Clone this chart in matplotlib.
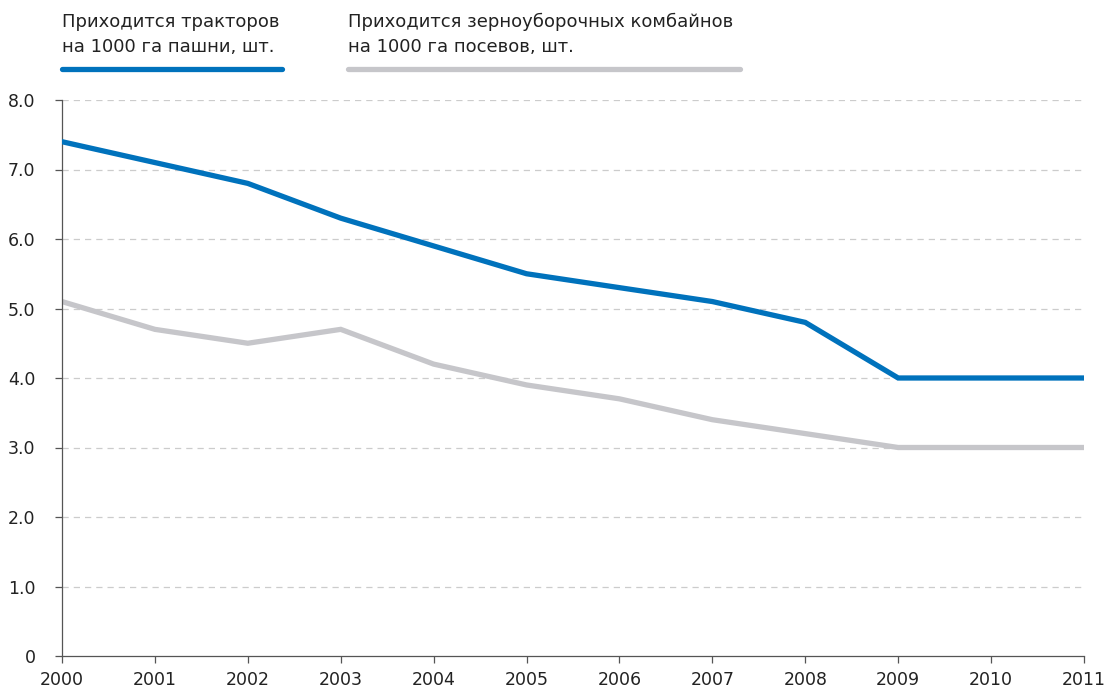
import numpy as np
import matplotlib.pyplot as plt
from matplotlib.lines import Line2D

years = list(range(2000, 2012))
tractors = [7.4, 7.1, 6.8, 6.3, 5.9, 5.5, 5.3, 5.1, 4.8, 4.0, 4.0, 4.0]
combines = [5.1, 4.7, 4.5, 4.7, 4.2, 3.9, 3.7, 3.4, 3.2, 3.0, 3.0, 3.0]
y_ticks = [0, 1, 2, 3, 4, 5, 6, 7, 8]
y_labels = ["0", "1.0", "2.0", "3.0", "4.0", "5.0", "6.0", "7.0", "8.0"]
legend_labels = [
    "Приходится тракторов\nна 1000 га пашни, шт.",
    "Приходится зерноуборочных комбайнов\nна 1000 га посевов, шт.",
]

BLUE = "#0072bc"
GREY = "#c6c6ca"

plt.rcParams["font.family"] = ["DejaVu Sans"]

W, H = 1108, 691
fig = plt.figure(figsize=(W / 100, H / 100), dpi=100)
ax = fig.add_axes([62 / W, 35 / H, (1084 - 62) / W, (656 - 100) / H])

for yv in y_ticks[1:]:
    ax.axhline(yv, color="#cccccc", lw=0.9, ls=(0, (5, 4)), zorder=0)

ax.plot(years, combines, color=GREY, lw=3.8, solid_capstyle="round",
        solid_joinstyle="miter", zorder=2)
ax.plot(years, tractors, color=BLUE, lw=3.8, solid_capstyle="round",
        solid_joinstyle="miter", zorder=3)

ax.set_xlim(2000, 2011)
ax.set_ylim(0, 8)
ax.set_xticks(years)
ax.set_xticklabels([str(y) for y in years], fontsize=12.5, color="#222222")
ax.set_yticks(y_ticks)
ax.set_yticklabels(y_labels, fontsize=12.5, color="#222222")
ax.tick_params(axis="both", direction="out", length=5, width=0.9,
               color="#555555", pad=6)
ax.tick_params(axis="y", pad=14)
for side in ["top", "right"]:
    ax.spines[side].set_visible(False)
for side in ["left", "bottom"]:
    ax.spines[side].set_color("#555555")
    ax.spines[side].set_linewidth(0.9)

# custom legend above the plot
legend_x = [(62, 282), (348, 740)]
colors = [BLUE, GREY]
for (x0, x1), label, c in zip(legend_x, legend_labels, colors):
    fig.text(x0 / W, 1 - 13 / H, label, ha="left", va="top", fontsize=13,
             color="#222222", linespacing=1.5)
    fig.add_artist(Line2D([x0 / W, x1 / W], [1 - 69 / H, 1 - 69 / H],
                          transform=fig.transFigure, color=c, lw=3.8,
                          solid_capstyle="round"))

fig.savefig("out.png", dpi=100)
